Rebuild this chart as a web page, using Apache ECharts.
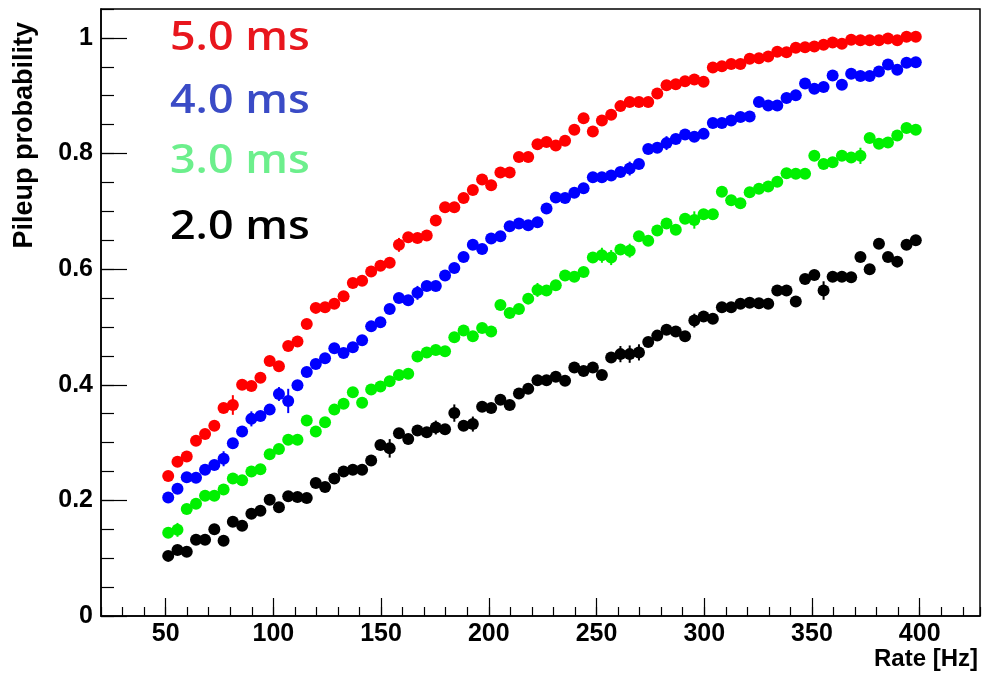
<!DOCTYPE html>
<html><head><meta charset="utf-8">
<script src="https://cdn.jsdelivr.net/npm/echarts@6/dist/echarts.min.js"></script>
<style>html,body{margin:0;padding:0;background:#fff}#c{width:985px;height:680px}</style>
</head><body><div id="c"></div>
<script>
// Rate [Hz]
const rates = [51.2,55.5,59.8,64.1,68.3,72.6,76.9,81.2,85.5,89.8,
  94.0,98.3,102.6,106.9,111.2,115.5,119.7,124.0,128.3,132.6,
  136.9,141.2,145.4,149.7,154.0,158.3,162.6,166.9,171.2,175.4,
  179.7,184.0,188.3,192.6,196.9,201.1,205.4,209.7,214.0,218.3,
  222.6,226.8,231.1,235.4,239.7,244.0,248.3,252.5,256.8,261.1,
  265.4,269.7,274.0,278.2,282.5,286.8,291.1,295.4,299.7,304.0,
  308.2,312.5,316.8,321.1,325.4,329.7,333.9,338.2,342.5,346.8,
  351.1,355.4,359.6,363.9,368.2,372.5,376.8,381.1,385.3,389.6,
  393.9,398.2];
// Pileup probability, 5.0 ms
const p5ms = [0.242,0.267,0.276,0.303,0.315,0.329,0.360,0.365,0.400,0.398,
  0.412,0.441,0.432,0.467,0.475,0.505,0.533,0.534,0.540,0.553,
  0.576,0.580,0.596,0.606,0.611,0.642,0.655,0.654,0.658,0.684,
  0.707,0.707,0.723,0.737,0.755,0.745,0.767,0.767,0.794,0.794,
  0.816,0.820,0.814,0.822,0.841,0.861,0.838,0.857,0.867,0.882,
  0.889,0.889,0.889,0.904,0.918,0.920,0.925,0.928,0.924,0.949,
  0.951,0.955,0.955,0.964,0.965,0.968,0.976,0.975,0.983,0.984,
  0.985,0.988,0.992,0.990,0.997,0.996,0.996,0.996,0.999,0.996,
  1.002,1.002];
// 4.0 ms
const p4ms = [0.205,0.220,0.240,0.239,0.253,0.261,0.272,0.299,0.319,0.341,
  0.346,0.357,0.384,0.372,0.399,0.422,0.436,0.446,0.463,0.455,
  0.465,0.477,0.501,0.508,0.531,0.550,0.546,0.559,0.571,0.571,
  0.589,0.602,0.621,0.642,0.635,0.653,0.657,0.674,0.679,0.676,
  0.681,0.705,0.724,0.723,0.732,0.740,0.759,0.759,0.762,0.768,
  0.774,0.782,0.808,0.810,0.818,0.825,0.833,0.829,0.834,0.853,
  0.853,0.857,0.863,0.864,0.889,0.883,0.883,0.896,0.901,0.921,
  0.912,0.915,0.935,0.919,0.938,0.934,0.934,0.942,0.954,0.945,
  0.957,0.958];
// 3.0 ms
const p3ms = [0.144,0.149,0.185,0.194,0.208,0.208,0.219,0.238,0.235,0.250,
  0.254,0.280,0.289,0.305,0.305,0.338,0.319,0.335,0.357,0.367,
  0.387,0.369,0.392,0.397,0.406,0.417,0.419,0.449,0.456,0.460,
  0.458,0.482,0.494,0.484,0.498,0.492,0.538,0.524,0.531,0.549,
  0.564,0.563,0.572,0.589,0.587,0.595,0.620,0.624,0.620,0.634,
  0.632,0.657,0.649,0.667,0.679,0.668,0.687,0.685,0.695,0.695,
  0.734,0.719,0.714,0.733,0.739,0.743,0.751,0.766,0.765,0.765,
  0.796,0.782,0.785,0.796,0.793,0.796,0.827,0.817,0.819,0.831,
  0.844,0.841];
// 2.0 ms
const p2ms = [0.104,0.114,0.111,0.132,0.132,0.150,0.130,0.163,0.156,0.177,
  0.182,0.201,0.188,0.207,0.206,0.204,0.230,0.223,0.238,0.250,
  0.253,0.253,0.269,0.296,0.290,0.316,0.306,0.321,0.318,0.326,
  0.323,0.351,0.329,0.332,0.362,0.360,0.374,0.365,0.385,0.393,
  0.408,0.408,0.414,0.407,0.430,0.424,0.430,0.417,0.447,0.453,
  0.453,0.456,0.474,0.485,0.495,0.492,0.484,0.511,0.518,0.514,
  0.534,0.534,0.540,0.542,0.541,0.540,0.563,0.563,0.544,0.583,
  0.590,0.563,0.587,0.587,0.586,0.621,0.600,0.644,0.621,0.613,
  0.642,0.650];

// visible error bars (point index, half-length)
const err5ms = [[7,0.017],[25,0.012]];
const err4ms = [[6,0.013],[9,0.013],[12,0.012],[13,0.021],[27,0.012],[50,0.012],[54,0.012]];
const err3ms = [[1,0.012],[40,0.012],[47,0.013],[48,0.013],[50,0.012],[57,0.015],[75,0.014]];
const err2ms = [[24,0.016],[29,0.012],[31,0.015],[33,0.013],[49,0.014],[50,0.015],[51,0.014],[57,0.012],[71,0.016]];

const seriesNames = ['5.0 ms','4.0 ms','3.0 ms','2.0 ms'];
const xTicks = [50,100,150,200,250,300,350,400];
const yTicks = [0,0.2,0.4,0.6,0.8,1];
const xTitle = 'Rate [Hz]';
const yTitle = 'Pileup probability';

// styles
const markerColors = ['#ff0000','#0000ff','#00f000','#000000'];
const textColors = ['#e8161d','#3a4bc6','#6cef8c','#000000'];
const legendY = [39, 102, 162, 228];
const axisFont = {fontFamily:'"Liberation Sans", Arial, sans-serif', fontWeight:'bold', fontSize:25, color:'#000'};

const allSeries = [p5ms, p4ms, p3ms, p2ms];
const allErr = [err5ms, err4ms, err3ms, err2ms];
const chart = echarts.init(document.getElementById('c'), null, {renderer:'canvas'});
const XMIN = 20, XMAX = 428, YMIN = 0, YMAX = 1.05;

const scatterSeries = allSeries.map((vals, k) => ({
  name: seriesNames[k], type:'scatter', xAxisIndex:0, yAxisIndex:0,
  symbol:'circle', symbolSize:12, z: 10 - k,
  itemStyle:{color:markerColors[k], opacity:1},
  data: rates.map((r, i) => [r, vals[i]])
}));
const errSeries = allErr.map((list, k) => ({
  type:'custom', xAxisIndex:0, yAxisIndex:0, z: 10 - k,
  data: list.map(([i, e]) => [rates[i], allSeries[k][i], e]),
  renderItem: (params, api) => {
    const x = api.value(0), y = api.value(1), e = api.value(2);
    const a = api.coord([x, y - e]), b = api.coord([x, y + e]);
    return {type:'line', shape:{x1:a[0], y1:a[1], x2:b[0], y2:b[1]},
            style:{stroke:markerColors[k], lineWidth:2}};
  }
}));

chart.setOption({
  animation: false,
  backgroundColor: '#fff',
  grid: {left:101, right:5, top:9, bottom:64, show:true, borderColor:'#000', borderWidth:1.5, backgroundColor:'#fff'},
  xAxis: [
    {type:'value', min:XMIN, max:XMAX, interval:10,
     axisLine:{show:true, onZero:false, lineStyle:{color:'#000', width:1.5}},
     axisTick:{show:true, inside:true, length:9, lineStyle:{color:'#000', width:1.2}},
     axisLabel:{show:false}, splitLine:{show:false}},
    {type:'value', min:XMIN, max:XMAX, position:'bottom',
     axisLine:{show:false, onZero:false},
     axisTick:{show:true, inside:true, length:18, customValues:xTicks, lineStyle:{color:'#000', width:1.2}},
     axisLabel:Object.assign({show:true, margin:6, customValues:xTicks}, axisFont),
     splitLine:{show:false}}
  ],
  yAxis: [
    {type:'value', min:YMIN, max:YMAX, interval:0.05,
     axisLine:{show:true, onZero:false, lineStyle:{color:'#000', width:1.5}},
     axisTick:{show:true, inside:true, length:13, lineStyle:{color:'#000', width:1.2}},
     axisLabel:{show:false}, splitLine:{show:false}},
    {type:'value', min:YMIN, max:YMAX, position:'left',
     axisLine:{show:false, onZero:false},
     axisTick:{show:true, inside:true, length:26, customValues:yTicks, lineStyle:{color:'#000', width:1.2}},
     axisLabel:Object.assign({show:true, margin:8, customValues:yTicks}, axisFont),
     splitLine:{show:false}}
  ],
  series: [...errSeries, ...scatterSeries],
  graphic: [
    ...seriesNames.map((t, i) => ({
      type:'text', x:170, y:legendY[i], scaleX:1.12, z:100,
      style:{text:t, fill:textColors[i], font:'600 40px "Open Sans"', textAlign:'left', textVerticalAlign:'middle'}
    })),
    {type:'text', x:978, y:659, z:100,
     style:{text:xTitle, fill:'#000', font:'bold 24px "Liberation Sans"', textAlign:'right', textVerticalAlign:'middle'}},
    {type:'text', x:25, y:22, rotation:Math.PI/2, z:100,
     style:{text:yTitle, fill:'#000', font:'bold 27px "Liberation Sans"', textAlign:'right', textVerticalAlign:'middle'}}
  ]
});
</script></body></html>
